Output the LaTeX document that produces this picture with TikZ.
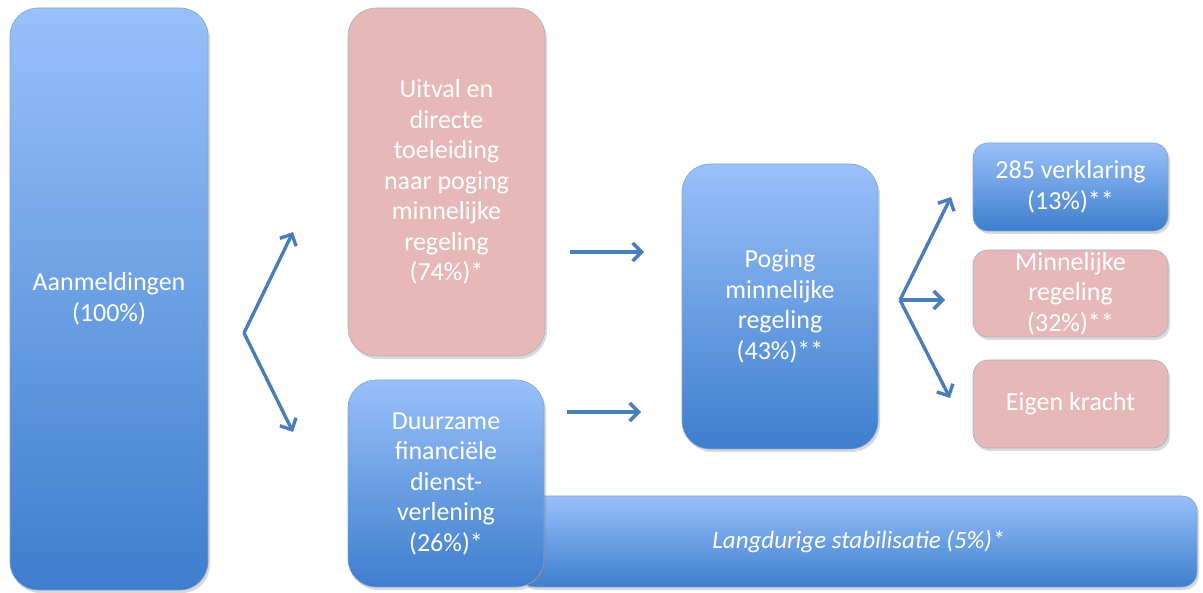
\documentclass[tikz,border=0pt]{standalone}
\usepackage{fontspec}
\setmainfont{Carlito}
\usetikzlibrary{arrows.meta,shadows}
\definecolor{bluetop}{HTML}{99C0FA}
\definecolor{bluebot}{HTML}{3E7ECD}
\definecolor{blueedge}{HTML}{7FA3D8}
\definecolor{pinkfill}{HTML}{E6B9B8}
\definecolor{pinkedge}{HTML}{A9AFCC}
\definecolor{arrowblue}{HTML}{4A7EBB}
\begin{document}
\begin{tikzpicture}[x=1pt,y=-1pt,>={Straight Barb[length=9pt,width=18pt]},
    base_box/.style={rounded corners=28pt,line width=0.6pt,text=white,align=center,inner sep=0pt,
      font=\fontsize{26}{30.5}\selectfont,drop shadow={opacity=0.3,shadow xshift=2pt,shadow yshift=-3pt}},
    blue_box/.style={base_box,draw=blueedge,top color=bluetop,bottom color=bluebot},
    pink_box/.style={base_box,draw=pinkedge,fill=pinkfill},
    flow/.style={->,line width=3.4pt,draw=arrowblue}]

      \useasboundingbox (0,0) rectangle (1203,593);

      \path (109,299) node [blue_box,minimum width=198pt,minimum height=582pt](box_aanm){Aanmeldingen\\(100\%)};
      \path (446.5,182) node [pink_box,minimum width=197pt,minimum height=348pt](box_uitval){Uitval en\\directe\\toeleiding\\naar poging\\minnelijke\\regeling\\(74\%)*};
      \path (858.5,541.5) node [blue_box,rounded corners=15pt,minimum width=677pt,minimum height=91pt,font=\fontsize{25}{30}\selectfont\itshape](box_lang){Langdurige stabilisatie (5\%)*};
      \path (446,483.5) node [blue_box,minimum width=196pt,minimum height=207pt](box_duurz){Duurzame\\financiële\\dienst-\\verlening\\(26\%)*};
      \path (780,306.5) node [blue_box,minimum width=196pt,minimum height=285pt](box_poging){Poging\\minnelijke\\regeling\\(43\%)**};
      \path (1070.5,187) node [blue_box,rounded corners=15pt,minimum width=195pt,minimum height=88pt](box_285){285 verklaring\\(13\%)**};
      \path (1070.5,293.5) node [pink_box,rounded corners=15pt,minimum width=195pt,minimum height=87pt](box_minn){Minnelijke\\regeling\\(32\%)**};
      \path (1070.5,404) node [pink_box,rounded corners=15pt,minimum width=195pt,minimum height=88pt](box_eigen){Eigen kracht};

      % split after the intake
      \coordinate (fork_in) at (244,333);
      \coordinate (tip_up) at (293,232);
      \coordinate (tip_down) at (293,432);
      \draw[flow] (fork_in) -- (tip_up);
      \draw[flow] (fork_in) -- (tip_down);

      \coordinate (mid_a) at (570,252);
      \coordinate (mid_b) at (644,252);
      \coordinate (mid_c) at (567,412);
      \coordinate (mid_d) at (641,412);
      \draw[flow] (mid_a) -- (mid_b);
      \draw[flow] (mid_c) -- (mid_d);

      % split after the attempt
      \coordinate (fork_out) at (900,300);
      \coordinate (out_up) at (951,197);
      \coordinate (out_mid) at (945,300);
      \coordinate (out_down) at (950,398);
      \draw[flow] (fork_out) -- (out_up);
      \draw[flow] (fork_out) -- (out_mid);
      \draw[flow] (fork_out) -- (out_down);

    \end{tikzpicture}
\end{document}
